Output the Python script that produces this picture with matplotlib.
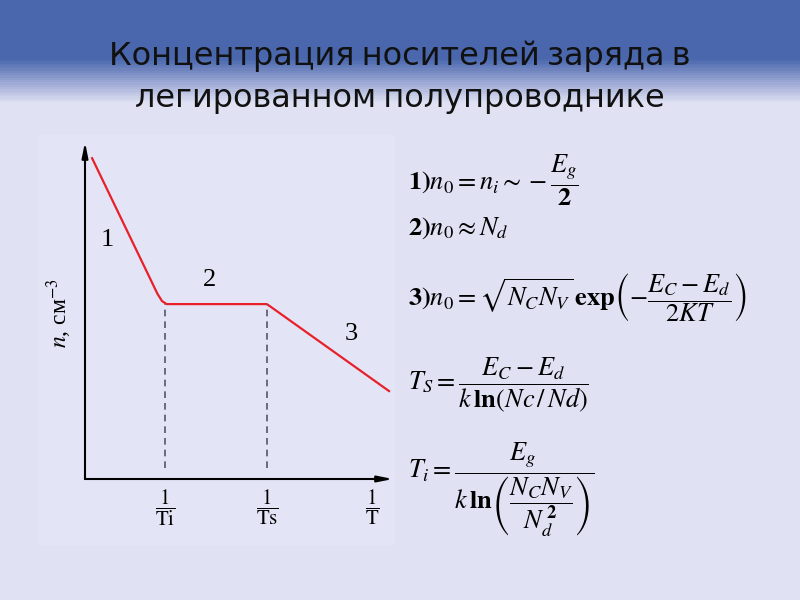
import numpy as np
import matplotlib
matplotlib.use('Agg')
import matplotlib.pyplot as plt
from matplotlib import font_manager
from matplotlib.colors import LinearSegmentedColormap
from matplotlib.patches import Rectangle

plt.rcParams['mathtext.fontset'] = 'stix'

# curve n(1/T), arbitrary units
inv_T = [0.023, 0.235, 0.25, 0.265, 0.59, 0.60, 0.987]
n_conc = [0.952, 0.55, 0.528, 0.519, 0.519, 0.513, 0.261]

# characteristic points on 1/T axis
tick_pos = [0.26, 0.591, 0.932]
tick_labels = [r'$\dfrac{1}{\mathrm{Ti}}$', r'$\dfrac{1}{\mathrm{Ts}}$', r'$\dfrac{1}{\mathrm{T}}$']
dash_x = [0.26, 0.591]
dash_top = 0.519
dash_bottom = 0.033

# region labels
region_names = ['1', '2', '3']
region_x = [0.072, 0.404, 0.863]
region_y = [0.71, 0.59, 0.43]

title_lines = ['Концентрация носителей заряда в', 'легированном полупроводнике']
title_y = [56, 100]  # pixel centres

formulas = [
    r'$\mathbf{1)}n_0 = n_i \sim -\dfrac{E_g}{\mathbf{2}}$',
    r'$\mathbf{2)}n_0 \approx N_d$',
    r'$\mathbf{3)}n_0 = \sqrt{N_C N_V}\,\mathbf{exp}\left(-\dfrac{E_C - E_d}{2KT}\right)$',
    r'$T_S = \dfrac{E_C - E_d}{k\,\mathbf{ln}\left(Nc\,/\,Nd\right)}$',
    r'$T_i = \dfrac{E_g}{k\,\mathbf{ln}\left(\dfrac{N_C N_V}{N_d^{\,\mathbf{2}}}\right)}$',
]
formula_y = [180, 228, 297, 386, 490]  # pixel centres

# pick a narrow sans face for the title if one is installed
narrow = [f.name for f in font_manager.fontManager.ttflist
          if 'Narrow' in f.name or 'Condensed' in f.name]
title_family = [narrow[0]] if narrow else ['Liberation Sans']

fig = plt.figure(figsize=(8, 6), dpi=100)

# slide background
bg = fig.add_axes([0, 0, 1, 1])
cmap = LinearSegmentedColormap.from_list('slide', [
    (0.0, '#4a67ad'), (58 / 600, '#4a68ae'), (80 / 600, '#98a4d2'),
    (102 / 600, '#e0e2f4'), (1.0, '#e0e2f4')])
grad = np.linspace(0, 1, 600).reshape(-1, 1)
bg.imshow(grad, aspect='auto', cmap=cmap, extent=[0, 1, 0, 1], origin='upper')
bg.add_patch(Rectangle((38 / 800, 1 - 545 / 600), 357 / 800, 410 / 600,
                       facecolor='#e3e5f6', edgecolor='none'))
bg.set_xlim(0, 1)
bg.set_ylim(0, 1)
bg.axis('off')

for line, yp in zip(title_lines, title_y):
    fig.text(0.5, 1 - yp / 600, line, ha='center', va='center', fontsize=23,
             family=title_family + ['DejaVu Sans'], color='#111111')

# chart
ax = fig.add_axes([85 / 800, 1 - 479 / 600, 308 / 800, 337 / 600])
ax.patch.set_alpha(0)
ax.set_xlim(0, 1)
ax.set_ylim(0, 1)
for s in ax.spines.values():
    s.set_visible(False)

ax.plot(inv_T, n_conc, color='#e8202a', lw=1.6)
for xd in dash_x:
    ax.plot([xd, xd], [dash_bottom, dash_top], color='#555566', lw=1.2, dashes=(4, 3))

arrow = dict(arrowstyle='-|>,head_length=0.9,head_width=0.18', color='black', lw=1.5,
             shrinkA=0, shrinkB=0)
ax.annotate('', xy=(1.0, 0), xytext=(0, 0), xycoords='axes fraction', arrowprops=arrow)
ax.annotate('', xy=(0, 1.0), xytext=(0, 0), xycoords='axes fraction', arrowprops=arrow)

ax.set_xticks(tick_pos)
ax.set_xticklabels(tick_labels, fontsize=15)
ax.tick_params(axis='x', length=0, pad=6)
ax.set_yticks([])

for name, xr, yr in zip(region_names, region_x, region_y):
    ax.text(xr, yr, name, fontsize=19, family='Liberation Serif', ha='center', va='center')

fig.text(59 / 800, 1 - 313 / 600, r'$n$, см$^{-3}$', rotation=90, ha='center', va='center',
         fontsize=17, family='Liberation Serif')

for f, yp in zip(formulas, formula_y):
    fig.text(408 / 800, 1 - yp / 600, f, ha='left', va='center', fontsize=19)

fig.savefig('out.png', dpi=100)
